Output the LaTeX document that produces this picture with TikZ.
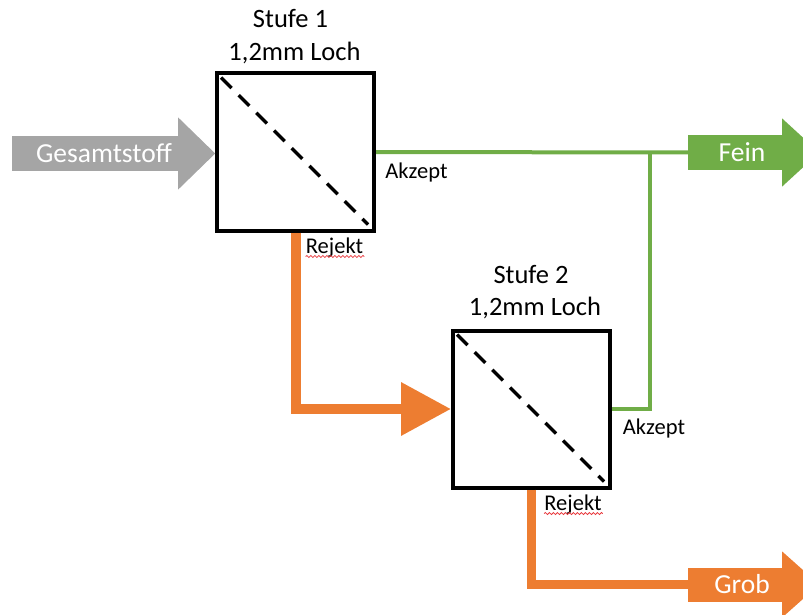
\documentclass[tikz,border=0pt]{standalone}
\usepackage{fontspec}
\setmainfont{Carlito}
\usetikzlibrary{arrows.meta,calc,decorations.pathmorphing}
\definecolor{feingreen}{HTML}{70AD47}
\definecolor{rejorange}{HTML}{ED7D31}
\definecolor{feedgray}{HTML}{A5A5A5}
\definecolor{spellred}{HTML}{E8383D}

\tikzset{
  stage/.style={draw=black, line width=4pt, minimum size=157pt, inner sep=0pt},
  sieve/.style={line width=3.5pt, dash pattern=on 15pt off 10pt},
  flowbody/.style={inner sep=0pt, minimum width=94pt, minimum height=34pt,
    text=white, font=\fontsize{27.5}{31}\selectfont},
  acceptline/.style={draw=feingreen, line width=4pt},
  rejectline/.style={draw=rejorange, line width=10pt},
  title/.style={inner sep=0pt, anchor=base, font=\fontsize{26.5}{31}\selectfont},
  flowlabel/.style={inner sep=0pt, anchor=base, font=\fontsize{22.5}{26}\selectfont},
  spell/.style={draw=spellred, line width=0.8pt, decorate,
    decoration={snake, amplitude=1pt, segment length=4pt}}
}

\begin{document}
\begin{tikzpicture}[x=1pt,y=-1pt]
\useasboundingbox (0,0) rectangle (803,615);
\clip (0,0) rectangle (803,615);

% screening stages
\node[stage] (s1) at (295.5,152) {};
\node[stage] (s2) at (531.5,409) {};
\draw[sieve] ($(s1.north west)+(6,6)$) -- ($(s1.south east)+(-8,-8)$);
\draw[sieve] ($(s2.north west)+(6,6)$) -- ($(s2.south east)+(-8,-8)$);

\node[title] (t1a) at (290.5,28) {Stufe 1};
\node[title] (t1b) at (294.5,61) {1,2mm Loch};
\node[title] (t2a) at (531,283) {Stufe 2};
\node[title] (t2b) at (535,315) {1,2mm Loch};

% block arrows: feed, fine and coarse fraction
\node[flowbody, fill=feedgray, minimum width=166pt, minimum height=35pt] (feed) at (95,153.5) {\hspace*{18pt}Gesamtstoff};
\fill[feedgray] ($(feed.east)+(0,-36)$) -- ($(feed.east)+(37,0)$) -- ($(feed.east)+(0,36)$) -- cycle;

\node[flowbody, fill=feingreen] (fine) at (735,152.5) {\hspace*{14pt}Fein};
\fill[feingreen] ($(fine.east)+(0,-34)$) -- ($(fine.east)+(37,0)$) -- ($(fine.east)+(0,34)$) -- cycle;

\node[flowbody, fill=rejorange] (coarse) at (735,584.5) {\hspace*{14pt}Grob};
\fill[rejorange] ($(coarse.east)+(0,-33)$) -- ($(coarse.east)+(37,0)$) -- ($(coarse.east)+(0,33)$) -- cycle;

% accept lines
\coordinate (join) at (650,152.5);
\draw[acceptline] (s1.east) -- (fine.west);
\draw[acceptline] (s2.east) -| (join);

% reject lines
\draw[rejectline, -{Triangle[length=50pt,width=51pt]}] (s1.south) |- (s2.west);
\draw[rejectline, line width=9pt] (s2.south) |- (coarse.west);

% line labels
\node[flowlabel] (a1) at (416.5,178) {Akzept};
\node[flowlabel] (r1) at (334.5,253) {Rejekt};
\node[flowlabel] (a2) at (654,434) {Akzept};
\node[flowlabel] (r2) at (573,510) {Rejekt};
\draw[spell] ($(r1.base west)+(0,3.5)$) -- ($(r1.base east)+(1,3.5)$);
\draw[spell] ($(r2.base west)+(0,3.5)$) -- ($(r2.base east)+(1,3.5)$);
\end{tikzpicture}
\end{document}
